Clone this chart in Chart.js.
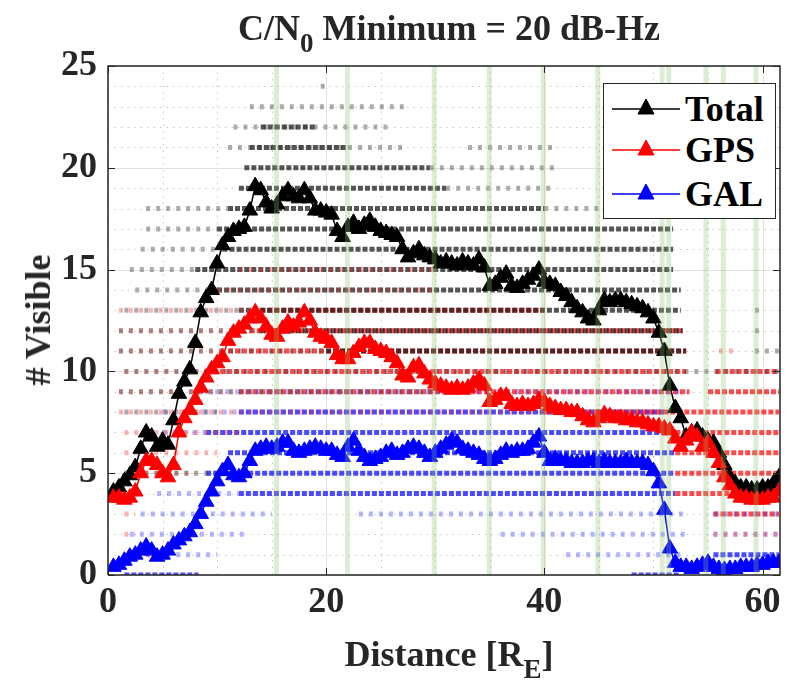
<!DOCTYPE html>
<html>
<head>
<meta charset="utf-8">
<script src="https://cdn.jsdelivr.net/npm/chart.js@4.4.1/dist/chart.umd.min.js"></script>
<style>
  html, body { margin: 0; padding: 0; background: #fff; }
  #wrap { position: relative; width: 790px; height: 681px; overflow: hidden; font-family: 'Liberation Serif', 'Times New Roman', serif; font-weight: bold; color: #262626; }
  canvas { position: absolute; left: 0; top: 0; }
  .txt { position: absolute; font-size: 36px; line-height: 36px; white-space: nowrap; }
  sub { font-size: 0.75em; vertical-align: -0.45em; line-height: 0; }
  #title { left: 108px; width: 682px; top: 10px; text-align: center; }
  #xtitle { left: 108px; width: 682px; top: 636px; text-align: center; }
  #ytitle { left: 38px; top: 320px; transform: translate(-50%, -50%) rotate(-90deg); }
  #legend { position: absolute; left: 603px; top: 83px; width: 171px; height: 134px; border: 1px solid #262626; background: #fff; }
  .lrow { position: absolute; left: 0; height: 36px; width: 171px; }
  .lrow svg { position: absolute; left: 6px; top: 0; }
  .lrow span { position: absolute; left: 81px; top: 0; font-size: 36px; line-height: 36px; color: #000; }
</style>
</head>
<body>
<div id="wrap">
  <canvas id="c" width="790" height="681"></canvas>
  <div class="txt" id="title">C/N<sub>0</sub> Minimum = 20 dB-Hz</div>
  <div class="txt" id="xtitle">Distance [R<sub>E</sub>]</div>
  <div class="txt" id="ytitle"># Visible</div>
  <div id="legend"></div>
</div>
<script>
// ---------------- DATA ----------------
const seriesNames = ['Total', 'GPS', 'GAL'];

const distance = [0.5,1.0,1.5,2.0,2.5,3.0,3.5,4.0,4.5,5.0,5.5,6.0,6.5,7.0,7.5,8.0,8.5,9.0,9.5,10.0,
10.5,11.0,11.5,12.0,12.5,13.0,13.5,14.0,14.5,15.0,15.5,16.0,16.5,17.0,17.5,18.0,18.5,19.0,19.5,20.0,
20.5,21.0,21.5,22.0,22.5,23.0,23.5,24.0,24.5,25.0,25.5,26.0,26.5,27.0,27.5,28.0,28.5,29.0,29.5,30.0,
30.5,31.0,31.5,32.0,32.5,33.0,33.5,34.0,34.5,35.0,35.5,36.0,36.5,37.0,37.5,38.0,38.5,39.0,39.5,40.0,
40.5,41.0,41.5,42.0,42.5,43.0,43.5,44.0,44.5,45.0,45.5,46.0,46.5,47.0,47.5,48.0,48.5,49.0,49.5,50.0,
50.5,51.0,51.5,52.0,52.5,53.0,53.5,54.0,54.5,55.0,55.5,56.0,56.5,57.0,57.5,58.0,58.5,59.0,59.5,60.0,
60.5,61.0,61.5];

const totalVisible = [4.1,4.3,4.6,4.9,5.3,6.2,7.0,6.8,6.3,6.6,6.4,7.6,8.9,9.5,10.1,11.4,12.9,13.6,14.0,15.3,
16.2,16.6,16.9,17.0,17.1,17.9,19.1,18.9,18.3,18.0,18.2,18.6,18.9,18.6,18.5,18.9,18.5,17.9,17.9,17.8,
17.7,16.9,16.6,17.1,17.3,17.0,17.2,17.4,17.1,16.9,16.8,16.7,16.6,16.0,15.6,15.8,16.0,15.7,15.6,15.5,
15.3,15.4,15.3,15.2,15.4,15.3,15.2,15.5,15.1,14.2,14.3,14.6,14.8,14.2,14.1,14.3,14.5,14.7,15.0,14.4,
14.3,14.2,13.9,13.7,13.4,13.1,12.9,12.6,12.5,13.0,13.5,13.4,13.5,13.5,13.4,13.3,13.2,13.1,12.9,12.6,
11.9,11.0,9.3,8.2,7.7,6.8,7.0,7.1,6.8,6.6,6.5,6.0,5.4,4.8,4.5,4.3,4.3,4.2,4.2,4.3,
4.3,4.5,4.8];

const gpsVisible = [3.8,3.8,3.7,3.8,4.1,5.0,5.6,5.6,5.4,5.0,4.8,5.4,7.0,7.7,8.1,8.6,9.2,9.7,10.1,10.4,
10.7,11.5,11.9,12.1,12.3,12.6,12.9,12.6,12.2,11.8,11.7,12.1,12.4,12.2,12.4,12.9,12.5,11.9,11.7,11.6,
11.4,10.8,10.6,10.6,10.9,11.2,11.4,11.4,11.1,11.0,10.9,10.7,10.4,9.8,9.7,10.2,10.3,9.9,9.6,9.4,
9.3,9.2,9.1,9.2,9.1,9.2,9.4,9.6,9.3,8.5,8.6,8.8,8.8,8.4,8.3,8.4,8.3,8.4,8.6,8.5,
8.3,8.2,8.1,8.1,8.0,8.0,7.8,7.6,7.5,7.7,7.9,7.8,7.7,7.7,7.6,7.6,7.5,7.5,7.4,7.3,
7.3,7.2,7.1,6.7,6.3,6.6,7.0,6.8,6.3,6.5,6.0,5.5,4.8,4.4,4.0,3.8,3.8,3.7,3.7,3.7,
3.8,3.8,4.1];

const galVisible = [0.4,0.5,0.7,0.9,1.0,1.2,1.4,1.2,0.9,1.0,1.2,1.5,1.7,1.9,2.1,2.5,3.0,3.6,4.1,4.6,
5.1,5.4,4.9,4.8,5.0,5.6,6.1,6.2,6.3,6.2,6.3,6.5,6.5,6.1,6.0,6.1,6.2,6.3,6.2,6.1,
6.1,5.9,5.8,6.3,6.6,6.1,5.8,5.6,5.7,5.8,6.0,6.1,5.9,6.0,6.2,6.3,6.2,6.0,5.8,6.0,
6.2,6.4,6.6,6.5,6.2,6.1,6.0,5.9,5.7,5.6,5.7,5.9,6.1,6.0,6.1,6.1,6.2,6.5,6.8,6.0,
5.6,5.7,5.6,5.6,5.5,5.5,5.5,5.6,5.6,5.5,5.6,5.5,5.5,5.5,5.6,5.5,5.5,5.5,5.4,5.1,
4.5,3.2,1.3,0.6,0.4,0.4,0.3,0.4,0.5,0.6,0.4,0.3,0.25,0.3,0.3,0.4,0.4,0.4,0.5,0.5,
0.6,0.6,0.6];

// individual satellite-count samples, as rows: [count, distance from, distance to]
const totalRowsDense = [[22,14,19],[21,13,22],[20,12.5,29.5],[19,12,31],[18,11,40],[17,10,51.8],
  [16,10.5,51.8],[15,8,51.8],[14,10,52.5],[13,12,52.5],[12,14,52.7],[11,20,53]];
const totalRowsSparse = [[24,19.5,20.2],[23,13,27.5],[22,11.5,26],[21,11,27.5],[21,33,41],[20,29.5,41],
  [19,31,41],[18,3.5,11],[18,40,45],[17,3.5,10],[16,3,10.5],[15,2,8],[14,2.5,10],[13,1.5,12],
  [13,59.3,59.9],[12,1,14],[12,59.3,59.9],[11,1,20],[11,59.3,61.5],[10,1.5,61.5],[9,1,30],[8,1.5,10],[5,1.5,10]];
const gpsRowsDense = [[13,14,40],[12,13,52.7],[11,11,53],[10,9,53],[10,55.7,61.5],[9,12,53.3],[9,55,61.5],
  [8,40,61.5],[7,52,61.5],[6,52,61.5],[5,52,61.5],[4,52,61.5],[3,55.5,61.5]];
const gpsRowsSparse = [[15,12,30],[14,10,30],[13,1,14],[12,1,13],[11,1,11],[10,1.5,9],[9,1,12],[8,1,40],
  [7,1.5,12],[6,1.5,10],[5,1.5,8],[3,1.5,2.5],[2,1.5,2.5],[2,55.5,61.5],[1,3.5,5],[11,56,57.3]];
const galRowsDense = [[8,12,51],[7,9,52],[6,11,52],[5,9,52],[4,12,52],[1,55.5,61.5],[0,48,52.5],[0,1.5,8.3]];
const galRowsSparse = [[9,8,53],[8,5,12],[7,5,9],[4,4.5,12],[3,3,15],[3,23,53],[2,2,13],[2,36,53],
  [2,55.5,61.5],[1,3.5,10],[1,42,53],[3,55.5,61.5]];

// highlighted distances (green vertical bands)
const bandDistances = [15.45, 21.95, 29.9, 34.95, 39.9, 44.9, 50.8, 51.4, 54.8, 56.4, 59.4];

// axes
const xTicks = [0, 20, 40, 60];
const yTicks = [0, 5, 10, 15, 20, 25];
const xMinorGrid = [5, 10, 15, 25, 30, 35, 45, 50, 55];
const yMinorGrid = [1,2,3,4,6,7,8,9,11,12,13,14,16,17,18,19,21,22,23,24];
const xRange = [0, 61.6];
const yRange = [0, 25];

// ---------------- STYLE ----------------
const colors = { Total: '#000000', GPS: '#ff0000', GAL: '#0000ff' };
const FONT = { family: "'Liberation Serif', 'Times New Roman', serif", size: 36, weight: 'bold' };
const AX = '#262626';

function series(vals) { return distance.map((d, i) => ({ x: d, y: vals[i] })); }
function rows(list) {
  const out = [];
  list.forEach(r => { out.push({ x: r[1], y: r[0] }, { x: r[2], y: r[0] }, { x: null, y: null }); });
  return out;
}
function rowSet(list, rgb, alpha, dash, order) {
  return { data: rows(list), borderColor: `rgba(${rgb},${alpha})`, borderWidth: 5, borderDash: dash,
    pointRadius: 0, spanGaps: false, order: order, tension: 0, borderCapStyle: 'butt' };
}

const datasets = [];
bandDistances.forEach(b => datasets.push({ data: [{ x: b, y: yRange[0] }, { x: b, y: yRange[1] }],
  borderColor: 'rgba(140,195,110,0.3)', borderWidth: 5, pointRadius: 0, order: 0 }));
[['GAL', galVisible, 1], ['GPS', gpsVisible, 2], ['Total', totalVisible, 3]].forEach(([n, v, o]) => {
  datasets.push({ label: n, data: series(v), borderColor: colors[n], backgroundColor: colors[n],
    borderWidth: 1.5, pointStyle: 'triangle', pointRadius: 9, pointBorderWidth: 1,
    pointBorderColor: colors[n], pointBackgroundColor: colors[n], order: o, tension: 0 });
});
datasets.push(rowSet(totalRowsSparse, '50,50,50', 0.4, [4, 6], 20));
datasets.push(rowSet(gpsRowsSparse, '255,40,40', 0.35, [4, 6], 21));
datasets.push(rowSet(galRowsSparse, '40,40,255', 0.35, [4, 6], 22));
datasets.push(rowSet(totalRowsDense, '20,20,20', 0.72, [5, 2], 23));
datasets.push(rowSet(gpsRowsDense, '255,0,0', 0.7, [5, 2], 24));
datasets.push(rowSet(galRowsDense, '0,0,255', 0.7, [5, 2], 25));

const gridPlugin = {
  id: 'matlabGrid',
  beforeDatasetsDraw(chart) {
    const { ctx, chartArea: a, scales: { x, y } } = chart;
    ctx.save();
    ctx.lineWidth = 1;
    ctx.strokeStyle = '#c8c8c8';
    ctx.setLineDash([1.5, 5]);
    yMinorGrid.forEach(v => { const p = Math.round(y.getPixelForValue(v)) + 0.5; ctx.beginPath(); ctx.moveTo(a.left, p); ctx.lineTo(a.right, p); ctx.stroke(); });
    xMinorGrid.forEach(v => { const p = Math.round(x.getPixelForValue(v)) + 0.5; ctx.beginPath(); ctx.moveTo(p, a.top); ctx.lineTo(p, a.bottom); ctx.stroke(); });
    ctx.setLineDash([]);
    ctx.strokeStyle = '#e0e0e0';
    yTicks.forEach(v => { const p = Math.round(y.getPixelForValue(v)) + 0.5; ctx.beginPath(); ctx.moveTo(a.left, p); ctx.lineTo(a.right, p); ctx.stroke(); });
    xTicks.forEach(v => { const p = Math.round(x.getPixelForValue(v)) + 0.5; ctx.beginPath(); ctx.moveTo(p, a.top); ctx.lineTo(p, a.bottom); ctx.stroke(); });
    ctx.restore();
  },
  afterDraw(chart) {
    const { ctx, chartArea: a, scales: { x, y } } = chart;
    ctx.save();
    ctx.strokeStyle = AX;
    ctx.lineWidth = 1.5;
    ctx.beginPath();
    ctx.moveTo(a.left, a.bottom); ctx.lineTo(a.left, a.top); ctx.lineTo(a.right, a.top); ctx.lineTo(a.right, a.bottom); ctx.lineTo(a.left, a.bottom);
    ctx.stroke();
    const L = 7;
    ctx.lineWidth = 1;
    yTicks.forEach(v => { const p = Math.round(y.getPixelForValue(v)) + 0.5;
      ctx.beginPath(); ctx.moveTo(a.left, p); ctx.lineTo(a.left + L, p); ctx.moveTo(a.right, p); ctx.lineTo(a.right - L, p); ctx.stroke(); });
    xTicks.forEach(v => { const p = Math.round(x.getPixelForValue(v)) + 0.5;
      ctx.beginPath(); ctx.moveTo(p, a.bottom); ctx.lineTo(p, a.bottom - L); ctx.moveTo(p, a.top); ctx.lineTo(p, a.top + L); ctx.stroke(); });
    ctx.restore();
  }
};

new Chart(document.getElementById('c'), {
  type: 'line',
  data: { datasets },
  plugins: [gridPlugin],
  options: {
    responsive: false, animation: false, events: [],
    layout: { padding: { top: 66, left: 0, right: 0, bottom: 0 } },
    plugins: { legend: { display: false }, title: { display: false }, tooltip: { enabled: false } },
    scales: {
      x: { type: 'linear', min: xRange[0], max: xRange[1],
        afterFit: s => { s.height = 106; },
        afterBuildTicks: s => { s.ticks = xTicks.map(v => ({ value: v })); },
        ticks: { font: FONT, color: AX, padding: 6, maxRotation: 0 },
        grid: { display: false, drawTicks: false }, border: { display: false } },
      y: { type: 'linear', min: yRange[0], max: yRange[1],
        afterFit: s => { s.width = 108; },
        afterBuildTicks: s => { s.ticks = yTicks.map(v => ({ value: v })); },
        ticks: { font: FONT, color: AX, padding: 11 },
        grid: { display: false, drawTicks: false }, border: { display: false } }
    }
  }
});

// legend (HTML)
const legendRowsTop = [7, 48, 92];
const leg = document.getElementById('legend');
seriesNames.forEach((n, i) => {
  const row = document.createElement('div');
  row.className = 'lrow';
  row.style.top = legendRowsTop[i] + 'px';
  row.innerHTML = `<svg width="72" height="36"><line x1="2" y1="18" x2="70" y2="18" stroke="${colors[n]}" stroke-width="1.5"/>` +
    `<polygon points="36,8 44,23 28,23" fill="${colors[n]}" stroke="${colors[n]}" stroke-width="1"/></svg><span>${n}</span>`;
  leg.appendChild(row);
});
</script>
</body>
</html>
